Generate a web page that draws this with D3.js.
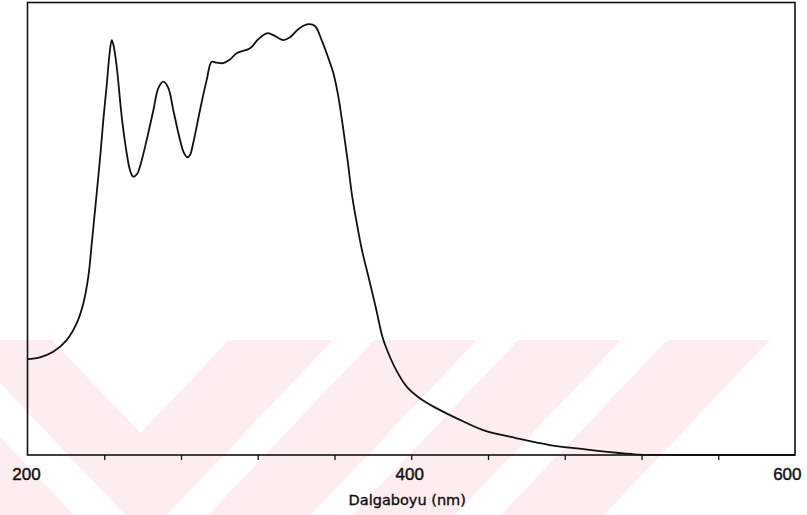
<!DOCTYPE html>
<html>
<head>
<meta charset="utf-8">
<script src="https://cdn.jsdelivr.net/npm/d3@7"></script>
<style>
  html, body { margin: 0; padding: 0; background: #fff; }
  svg { display: block; }
</style>
</head>
<body>
<svg id="chart" width="807" height="515"></svg>
<script>
// UV-Vis absorption spectrum (arbitrary absorbance units, 0–1 relative to frame height)
const wavelengths = [
  200, 206.5, 213.4, 220.4, 225.6, 229.1, 231.7, 233.5, 235.2, 236.9,
  238.2, 239.5, 241.3, 242.7, 243.9, 244.8, 246.5, 249.1, 251.7, 253.4,
  255.1, 257.1, 258.6, 262.1, 265.6, 268.2, 270.8, 273.4, 276.0, 279.5,
  281.6, 283.3, 284.7, 286.4, 289.9, 293.4, 296.0, 298.6, 302.0, 305.5,
  309.0, 316.0, 320.3, 324.7, 328.1, 333.3, 336.8, 341.1, 346.3, 349.8,
  353.3, 356.8, 359.4, 362.0, 364.4, 366.8, 369.1, 371.5, 374.3, 377.7,
  381.4, 385.0, 387.4, 392.1, 397.6, 404.6, 413.3, 423.7, 437.5, 455.0,
  472.3, 489.7, 507.1, 518.3, 540, 570, 600
];
const absorbance = [
  0.212, 0.216, 0.228, 0.254, 0.291, 0.335, 0.394, 0.468, 0.541, 0.615,
  0.674, 0.740, 0.818, 0.884, 0.917, 0.906, 0.858, 0.748, 0.667, 0.630,
  0.615, 0.621, 0.637, 0.696, 0.762, 0.811, 0.825, 0.811, 0.762, 0.696,
  0.667, 0.658, 0.663, 0.690, 0.762, 0.829, 0.869, 0.867, 0.866, 0.874,
  0.888, 0.899, 0.919, 0.932, 0.928, 0.917, 0.923, 0.941, 0.952, 0.948,
  0.917, 0.877, 0.844, 0.792, 0.725, 0.652, 0.575, 0.515, 0.453, 0.394,
  0.328, 0.261, 0.232, 0.188, 0.151, 0.125, 0.103, 0.081, 0.055, 0.037,
  0.022, 0.013, 0.005, 0.001, 0.0, 0.0, 0.0
];
const tickValues = [200, 240, 280, 320, 360, 400, 440, 480, 520, 560, 600];
const tickLabels = [200, 400, 600];
const axisTitle = "Dalgaboyu (nm)";

const svg = d3.select("#chart");
const W = 807, H = 515;
const margin = { top: 2.5, right: 12, bottom: 60, left: 27.5 };
const plotBottom = H - margin.bottom;

const x = d3.scaleLinear().domain([200, 600]).range([margin.left, W - margin.right]);
const y = d3.scaleLinear().domain([0, 1]).range([plotBottom, margin.top]);

// Faint diagonal background stripes behind the plot
const bg = svg.append("g").attr("class", "stripes");
const pink = "#fdedf0";
bg.append("path").attr("fill", pink)
  .attr("d", "M0,340 L770,340 L604,515 L0,515 Z");
const whites = [
  "M52,340 L229,340 L140.5,433 Z",
  "M333,340 L374,340 L208,515 L167,515 Z",
  "M477,340 L518,340 L352,515 L311,515 Z",
  "M621,340 L667,340 L501,515 L455,515 Z",
  "M0,383 L125,515 L74,515 L0,437 Z"
];
bg.selectAll("path.w").data(whites).join("path")
  .attr("class", "w").attr("fill", "#fff").attr("d", d => d);

// Bottom axis: ticks every 40 nm, labels at 200/400/600
const axis = d3.axisBottom(x)
  .tickValues(tickValues)
  .tickSize(5)
  .tickPadding(8)
  .tickFormat(d => tickLabels.includes(d) ? d : "");
const gx = svg.append("g")
  .attr("transform", `translate(0,${plotBottom})`)
  .call(axis);
gx.select(".domain").remove();
gx.selectAll(".tick line")
  .attr("stroke", "#111").attr("stroke-width", 1.3)
  .attr("opacity", d => (d === 200 || d === 600) ? 0 : 1);
gx.selectAll(".tick text")
  .attr("fill", "#111")
  .attr("stroke", "#111").attr("stroke-width", 0.45)
  .attr("text-anchor", d => d === 600 ? "end" : "middle")
  .attr("dx", d => d === 600 ? 6 : (d === 200 ? -1.5 : -2))
  .style("font-family", "'Liberation Sans', Arial, sans-serif")
  .style("font-size", "17px");

// Plot frame
svg.append("rect")
  .attr("x", x(200)).attr("y", y(1))
  .attr("width", x(600) - x(200)).attr("height", y(0) - y(1))
  .attr("fill", "none").attr("stroke", "#111").attr("stroke-width", 1.6);

// Spectrum line
const line = d3.line()
  .x((d, i) => x(wavelengths[i]))
  .y(d => y(d))
  .curve(d3.curveCatmullRom.alpha(0.5));
svg.append("path")
  .datum(absorbance)
  .attr("fill", "none")
  .attr("stroke", "#111")
  .attr("stroke-width", 1.8)
  .attr("stroke-linejoin", "round")
  .attr("d", line);

// Axis title
svg.append("text")
  .attr("x", x(400) - 4).attr("y", 505)
  .attr("text-anchor", "middle")
  .attr("fill", "#111")
  .attr("stroke", "#111").attr("stroke-width", 0.4)
  .style("font-family", "'DejaVu Sans', sans-serif")
  .style("font-size", "14.5px")
  .text(axisTitle);
</script>
</body>
</html>
